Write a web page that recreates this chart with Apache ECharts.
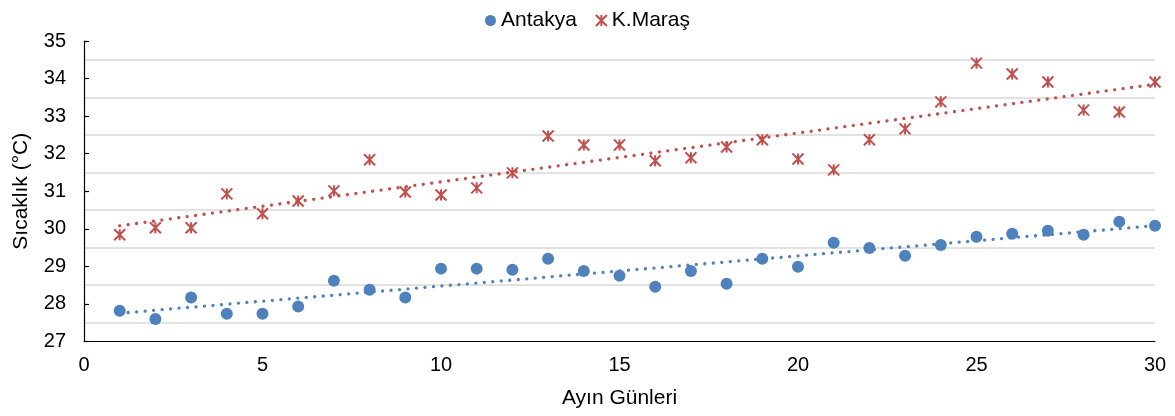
<!DOCTYPE html>
<html><head><meta charset="utf-8">
<script src="https://cdn.jsdelivr.net/npm/echarts@6/dist/echarts.min.js"></script>
<style>html,body{margin:0;padding:0;background:#fff}#c{width:1175px;height:416px}</style>
</head><body><div id="c"></div>
<script>
const days = [1,2,3,4,5,6,7,8,9,10,11,12,13,14,15,16,17,18,19,20,21,22,23,24,25,26,27,28,29,30];
const antakya = [27.82,27.6,28.17,27.74,27.74,27.93,28.62,28.38,28.17,28.94,28.94,28.91,29.2,28.88,28.75,28.46,28.88,28.54,29.2,28.99,29.63,29.49,29.28,29.57,29.79,29.87,29.95,29.84,30.19,30.08];
const maras = [29.84,30.03,30.03,30.93,30.4,30.74,31.01,31.84,30.98,30.9,31.09,31.49,32.47,32.23,32.23,31.81,31.89,32.18,32.37,31.86,31.57,32.37,32.66,33.38,34.41,34.12,33.91,33.16,33.11,33.91];
const seriesNames = ['Antakya','K.Maraş'];
const xTitle = 'Ayın Günleri';
const yTitle = 'Sıcaklık (°C)';

function pairs(ys){ return days.map((d,i)=>[d, ys[i]]); }
function trend(ys){
  const n = days.length;
  const mx = days.reduce((a,b)=>a+b,0)/n, my = ys.reduce((a,b)=>a+b,0)/n;
  let sxy=0, sxx=0;
  for (let i=0;i<n;i++){ sxy+=(days[i]-mx)*(ys[i]-my); sxx+=(days[i]-mx)**2; }
  const b = sxy/sxx, a = my - b*mx;
  const x0 = days[0], x1 = days[n-1];
  return [[x0, a+b*x0],[x1, a+b*x1]];
}
const BLUE = '#4F81BD', RED = '#C0504D';
const FONT = 'Liberation Sans, Arial, sans-serif';
const chart = echarts.init(document.getElementById('c'), null, {renderer:'canvas'});
chart.setOption({
  animation:false,
  textStyle:{fontFamily:FONT},
  legend:{
    data: seriesNames, top: 5, left: 'center', itemGap: 18, itemWidth: 11, itemHeight: 11,
    textStyle:{fontSize:21, color:'#000', fontFamily:FONT}
  },
  grid:{left:84, right:20, top:41, bottom:74.5},
  xAxis:{
    type:'value', min:0, max:30, interval:5,
    name:xTitle, nameLocation:'middle', nameGap:46,
    nameTextStyle:{fontSize:21, color:'#000', fontFamily:FONT},
    axisLine:{show:true, lineStyle:{color:'#000', width:1.2}},
    axisTick:{show:false},
    splitLine:{show:false},
    axisLabel:{fontSize:20, color:'#000', margin:14, fontFamily:FONT}
  },
  yAxis:{
    type:'value', min:27, max:35, interval:1,
    name:yTitle, nameLocation:'middle', nameGap:52, nameRotate:90,
    nameTextStyle:{fontSize:21, color:'#000', fontFamily:FONT},
    axisLine:{show:true, lineStyle:{color:'#000', width:1.2}},
    axisTick:{show:true, inside:true, length:5, lineStyle:{color:'#000', width:1.2}},
    splitLine:{show:false},
    minorTick:{show:false, splitNumber:2},
    minorSplitLine:{show:true, lineStyle:{color:'#d9d9d9', width:1.5}},
    axisLabel:{fontSize:20, color:'#000', margin:18, fontFamily:FONT}
  },
  series:[
    {name:seriesNames[0], type:'scatter', data:pairs(antakya), symbol:'circle', symbolSize:12,
     itemStyle:{color:BLUE, opacity:1}, z:2},
    {name:seriesNames[1], type:'scatter', data:pairs(maras),
     symbol:'path://M0,0L10,10M10,0L0,10M5,0L5,10', symbolSize:11,
     itemStyle:{color:'rgba(0,0,0,0)', borderColor:RED, borderWidth:2, opacity:1}, z:2},
    {name:'Antakya trend', type:'line', data:trend(antakya), symbol:'none', silent:true,
     lineStyle:{color:BLUE, width:3.3, type:[0.01, 8.5], cap:'round'}, z:3},
    {name:'K.Maraş trend', type:'line', data:trend(maras), symbol:'none', silent:true,
     lineStyle:{color:RED, width:3.3, type:[0.01, 8.5], cap:'round'}, z:3}
  ]
});
</script></body></html>
